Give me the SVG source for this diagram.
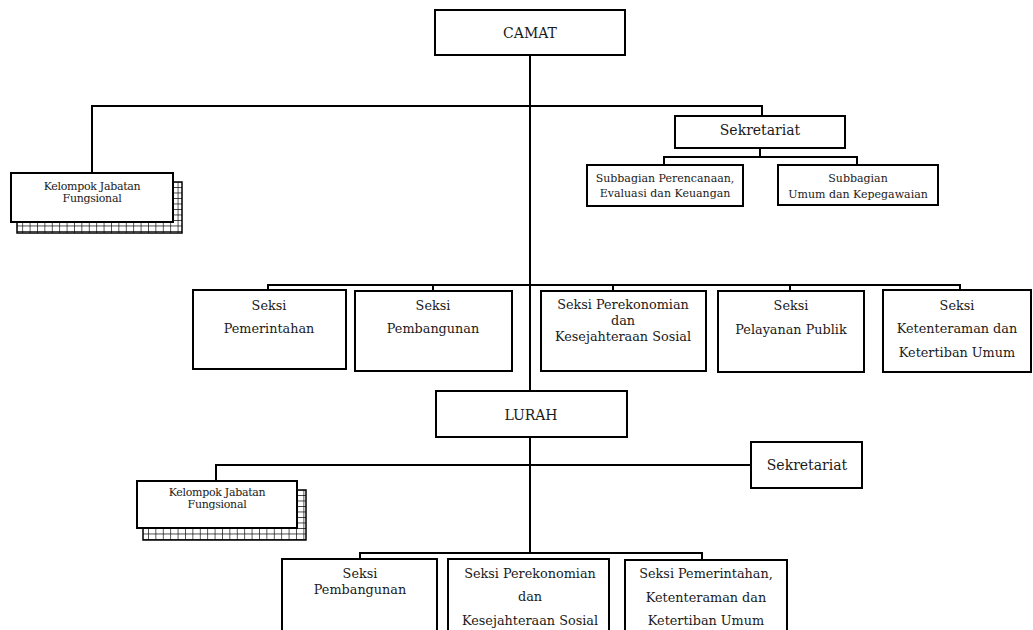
<svg xmlns="http://www.w3.org/2000/svg" width="1033" height="630" viewBox="0 0 1033 630">
<defs>
<pattern id="grid" x="0" y="0" width="7.4" height="5.5" patternUnits="userSpaceOnUse">
<rect width="7.4" height="5.5" fill="#fff"/>
<path d="M0 0V5.5M0 0H7.4" stroke="#000" stroke-width="1.3" fill="none"/>
</pattern>
</defs>
<style>
.box{fill:#fff;stroke:#000;stroke-width:2}
.sh{fill:url(#grid);stroke:#000;stroke-width:1.5}
.ln{fill:none;stroke:#000;stroke-width:2}
text{font-family:"DejaVu Serif","Liberation Serif",serif;fill:#1a1a1a;text-anchor:middle}
.t14{font-size:14px}
.t12{font-size:12.8px}
.t10{font-size:11px;letter-spacing:-0.3px}
.t11{font-size:11px}
</style>
<rect width="1033" height="630" fill="#fff"/>
<g id="connectors">
<path class="ln" d="M530 55V391M530 437V553"/>
<path class="ln" d="M92 173V106H762V116"/>
<path class="ln" d="M760 148V157M664 165V157H857V165"/>
<path class="ln" d="M268 290V285H960V290M433 285V291M613 285V291M790 285V291"/>
<path class="ln" d="M216 481V465H751"/>
<path class="ln" d="M360 559V553H702V559"/>
</g>
<g id="camat"><rect class="box" x="435" y="10" width="190" height="45"/><text class="t14" x="530" y="38">CAMAT</text></g>
<g id="kelompok1">
<rect class="sh" x="17" y="182" width="165" height="51"/>
<rect class="box" x="11" y="173" width="162" height="49"/>
<text class="t10" x="92" y="190">Kelompok Jabatan</text>
<text class="t10" x="92" y="202">Fungsional</text>
</g>
<g id="sekretariat1"><rect class="box" x="675" y="116" width="170" height="32"/><text class="t14" x="760" y="135">Sekretariat</text></g>
<g id="subbagian1"><rect class="box" x="587" y="165" width="156" height="41"/>
<text class="t11" x="665" y="182">Subbagian Perencanaan,</text>
<text class="t11" x="665" y="197">Evaluasi dan Keuangan</text></g>
<g id="subbagian2"><rect class="box" x="778" y="165" width="160" height="40"/>
<text class="t11" x="858" y="182">Subbagian</text>
<text class="t11" x="858" y="198">Umum dan Kepegawaian</text></g>
<g id="seksi-pemerintahan"><rect class="box" x="193" y="290" width="153" height="79"/>
<text class="t12" x="269" y="310">Seksi</text><text class="t12" x="269" y="333">Pemerintahan</text></g>
<g id="seksi-pembangunan"><rect class="box" x="355" y="291" width="157" height="80"/>
<text class="t12" x="433" y="310">Seksi</text><text class="t12" x="433" y="333">Pembangunan</text></g>
<g id="seksi-perekonomian"><rect class="box" x="541" y="291" width="165" height="80"/>
<text class="t12" x="623" y="309">Seksi Perekonomian</text><text class="t12" x="623" y="325">dan</text><text class="t12" x="623" y="341">Kesejahteraan Sosial</text></g>
<g id="seksi-pelayanan"><rect class="box" x="718" y="291" width="146" height="81"/>
<text class="t12" x="791" y="310">Seksi</text><text class="t12" x="791" y="334">Pelayanan Publik</text></g>
<g id="seksi-ketenteraman"><rect class="box" x="883" y="290" width="148" height="82"/>
<text class="t12" x="957" y="310">Seksi</text><text class="t12" x="957" y="333">Ketenteraman dan</text><text class="t12" x="957" y="357">Ketertiban Umum</text></g>
<g id="lurah"><rect class="box" x="436" y="391" width="191" height="46"/><text class="t14" x="531" y="420">LURAH</text></g>
<g id="sekretariat2"><rect class="box" x="751" y="442" width="111" height="46"/><text class="t14" x="807" y="470">Sekretariat</text></g>
<g id="kelompok2">
<rect class="sh" x="143" y="490" width="163" height="50"/>
<rect class="box" x="137" y="481" width="160" height="47"/>
<text class="t10" x="217" y="496">Kelompok Jabatan</text>
<text class="t10" x="217" y="508">Fungsional</text>
</g>
<g id="l-pembangunan"><rect class="box" x="282" y="559" width="155" height="80"/>
<text class="t12" x="360" y="578">Seksi</text><text class="t12" x="360" y="594">Pembangunan</text></g>
<g id="l-perekonomian"><rect class="box" x="448" y="559" width="161" height="80"/>
<text class="t12" x="530" y="578">Seksi Perekonomian</text><text class="t12" x="530" y="601">dan</text><text class="t12" x="530" y="625">Kesejahteraan Sosial</text></g>
<g id="l-pemerintahan"><rect class="box" x="625" y="560" width="162" height="80"/>
<text class="t12" x="706" y="578">Seksi Pemerintahan,</text><text class="t12" x="706" y="602">Ketenteraman dan</text><text class="t12" x="706" y="625">Ketertiban Umum</text></g>
</svg>
